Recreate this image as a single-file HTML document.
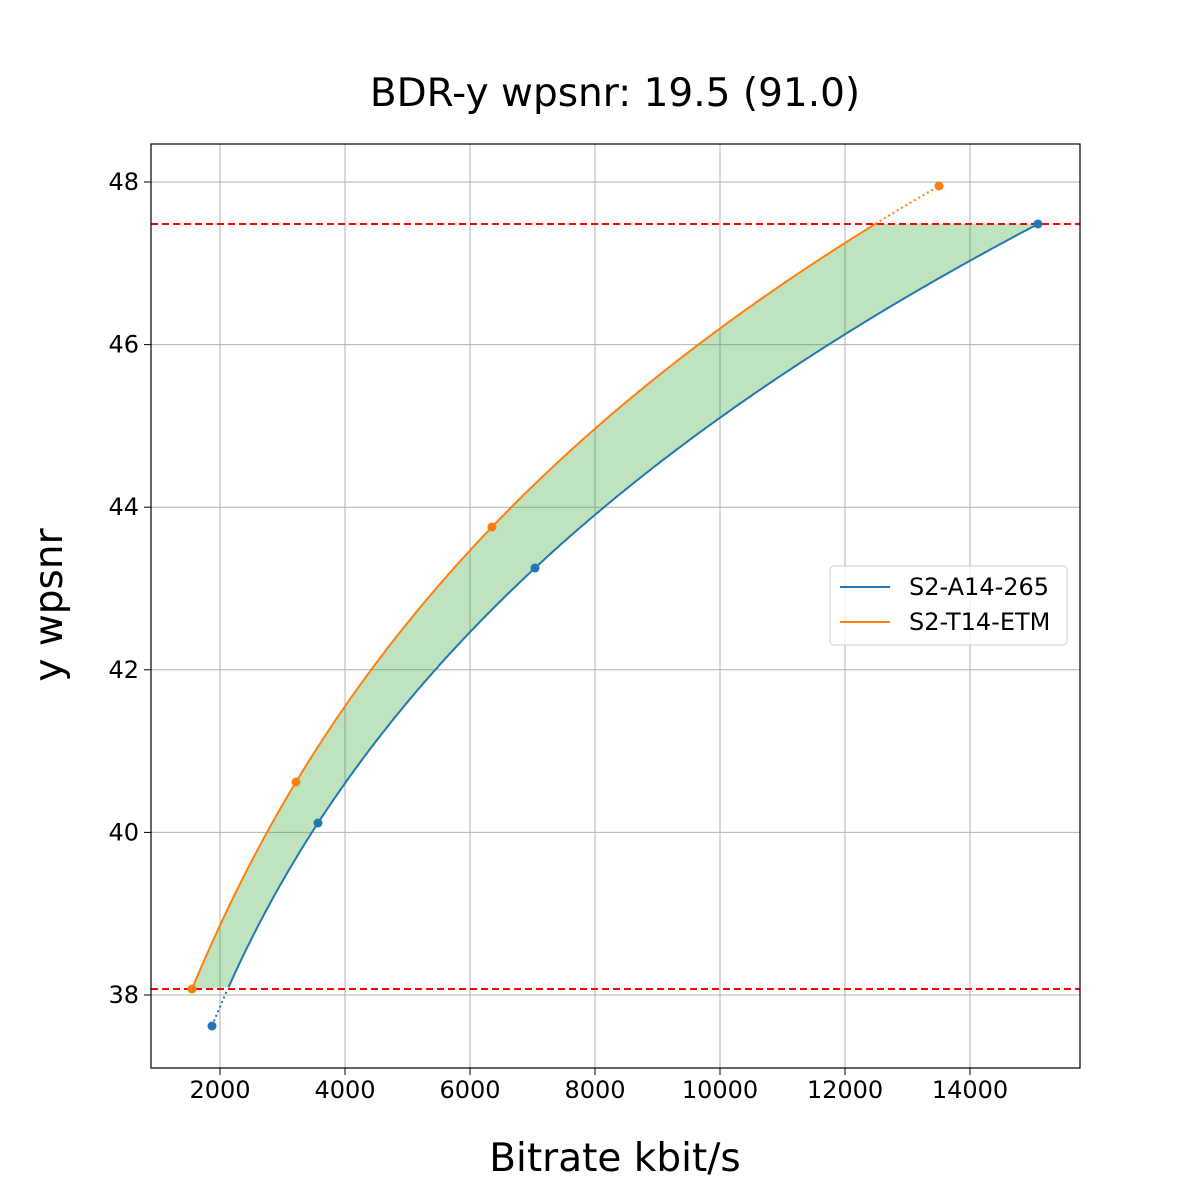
<!DOCTYPE html>
<html><head><style>body{margin:0;background:#fff}svg{display:block}text{font-family:"DejaVu Sans","Liberation Sans",sans-serif}</style></head>
<body>
<svg id="s" width="1200" height="1200" xmlns="http://www.w3.org/2000/svg">
<rect width="1200" height="1200" fill="#fff"/>
<g id="grid" stroke="#b0b0b0" stroke-width="1"></g>
<g id="plot"></g>
<rect x="151" y="144" width="929" height="924" fill="none" stroke="#000" stroke-width="1.2"/>
<g id="ticks" font-size="24" fill="#000"></g>
<text x="615" y="106" font-size="39" text-anchor="middle">BDR-y wpsnr: 19.5 (91.0)</text>
<text x="615" y="1171" font-size="39" text-anchor="middle">Bitrate kbit/s</text>
<text transform="translate(62,605) rotate(-90)" font-size="39" text-anchor="middle">y wpsnr</text>
<rect x="830" y="566" width="237" height="79" fill="#fff" fill-opacity="0.8" stroke="#ccc" rx="4"/>
<line x1="840" y1="587" x2="890" y2="587" stroke="#1f77b4" stroke-width="2"/>
<line x1="840" y1="622" x2="890" y2="622" stroke="#ff7f0e" stroke-width="2"/>
<text x="909" y="595" font-size="24">S2-A14-265</text>
<text x="909" y="630" font-size="24">S2-T14-ETM</text>
</svg>
<script>
(function(){
const NS="http://www.w3.org/2000/svg";
function el(p,t,a){const e=document.createElementNS(NS,t);for(const k in a)e.setAttribute(k,a[k]);p.appendChild(e);return e;}
const X=v=>220+(v-2000)*0.0625, Y=v=>995-(v-38)*81.3;
const grid=document.getElementById('grid'),ticks=document.getElementById('ticks'),plot=document.getElementById('plot');
for(let v=2000;v<=14000;v+=2000){const x=X(v);el(grid,'line',{x1:x,x2:x,y1:144,y2:1068});el(ticks,'line',{x1:x,x2:x,y1:1068,y2:1075,stroke:'#000'});el(ticks,'text',{x:x,y:1098,'text-anchor':'middle'}).textContent=v;}
for(let v=38;v<=48;v+=2){const y=Y(v);el(grid,'line',{x1:151,x2:1080,y1:y,y2:y});el(ticks,'line',{x1:144,x2:151,y1:y,y2:y,stroke:'#000'});el(ticks,'text',{x:139,y:y+8,'text-anchor':'end'}).textContent=v;}
const B=[[212,1026],[318,823],[535,568],[1038,224]], O=[[192,989],[296,782],[492,527],[939,186]];
const toR=px=>2000+(px-220)/0.0625;
function interp(P){const L=P.map(p=>Math.log(toR(p[0])));return r=>{const l=Math.log(r);let s=0;for(let i=0;i<4;i++){let t=P[i][1];for(let j=0;j<4;j++)if(j!=i)t*=(l-L[j])/(L[i]-L[j]);s+=t;}return s;};}
function sample(P){const f=interp(P);const a=toR(P[0][0]),b=toR(P[3][0]);const pts=[];for(let i=0;i<=400;i++){const r=a+(b-a)*i/400;pts.push([X(r),f(r)]);}return pts;}
const yTop=224,yBot=989;
const sb=sample(B),so=sample(O);
const inb=sb.filter(p=>p[1]<=yBot+0.5&&p[1]>=yTop-0.5), ino=so.filter(p=>p[1]<=yBot+0.5&&p[1]>=yTop-0.5);
const pstr=a=>a.map(p=>p[0].toFixed(1)+','+p[1].toFixed(1)).join(' ');
el(plot,'polygon',{points:pstr(ino.concat([[1038,224]]).concat(inb.slice().reverse())),fill:'#2ca02c','fill-opacity':0.3});
el(plot,'polyline',{points:pstr(sb.filter(p=>p[1]>=yBot)),fill:'none',stroke:'#1f77b4','stroke-width':2,'stroke-dasharray':'2,3'});
el(plot,'polyline',{points:pstr(so.filter(p=>p[1]<=yTop)),fill:'none',stroke:'#ff7f0e','stroke-width':2,'stroke-dasharray':'2,3'});
el(plot,'polyline',{points:pstr(inb),fill:'none',stroke:'#1f77b4','stroke-width':2});
el(plot,'polyline',{points:pstr(ino),fill:'none',stroke:'#ff7f0e','stroke-width':2});
[yTop,yBot].forEach(y=>el(plot,'line',{x1:151,x2:1080,y1:y,y2:y,stroke:'#ff0000','stroke-width':2,'stroke-dasharray':'7,4'}));
B.forEach(p=>el(plot,'circle',{cx:p[0],cy:p[1],r:4.5,fill:'#1f77b4'}));
O.forEach(p=>el(plot,'circle',{cx:p[0],cy:p[1],r:4.5,fill:'#ff7f0e'}));
})();
</script>
</body></html>
